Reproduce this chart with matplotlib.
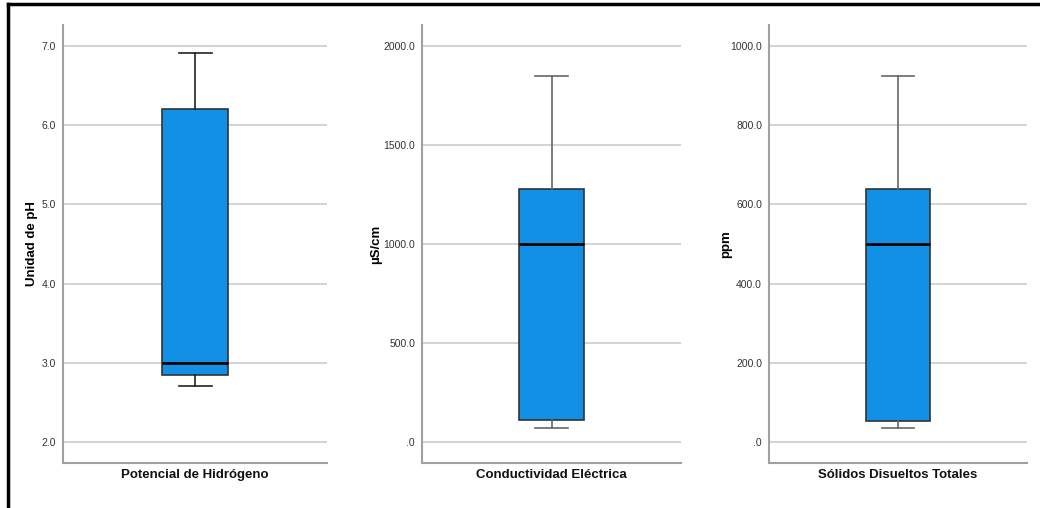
import matplotlib
matplotlib.use("Agg")
import matplotlib.pyplot as plt
from matplotlib.ticker import FuncFormatter
from matplotlib.lines import Line2D

plt.rcParams['font.family'] = ['Liberation Sans', 'DejaVu Sans']

# valores
variables = ["Potencial de Hidrógeno", "Conductividad Eléctrica", "Sólidos Disueltos Totales"]
unidades = ["Unidad de pH", "µS/cm", "ppm"]
minimos = [2.71, 72, 36]
q1 = [2.85, 111, 54]
medianas = [3.0, 1000, 499]
q3 = [6.2, 1276, 638]
maximos = [6.915, 1848, 924]
ticks = [[2, 3, 4, 5, 6, 7], [0, 500, 1000, 1500, 2000], [0, 200, 400, 600, 800, 1000]]
limites = [(1.735, 7.265), (-106, 2106), (-53, 1053)]

fill = "#1190e6"
posiciones = [(63, 264), (422, 259), (769, 258)]
etiqueta_x = [38, 382, 732]

def fmt(v, pos):
    s = "%.1f" % v
    if s.startswith("0."):
        s = s[1:]
    return s

fig = plt.figure(figsize=(10.4, 5.08), dpi=100)

for i in range(3):
    x0, w = posiciones[i]
    ax = fig.add_axes([x0 / 1040, 45 / 508, w / 1040, 438 / 508])
    stats = [dict(med=medianas[i], q1=q1[i], q3=q3[i], whislo=minimos[i], whishi=maximos[i], fliers=[])]
    wc = "#222222" if i == 0 else "#666666"
    ax.bxp(stats, positions=[0.5], widths=0.25, patch_artist=True, showfliers=False,
           boxprops=dict(facecolor=fill, edgecolor="#333333", linewidth=1.2),
           medianprops=dict(color="black", linewidth=2),
           whiskerprops=dict(color=wc, linewidth=1.2),
           capprops=dict(color=wc, linewidth=1.2),
           capwidths=0.125, zorder=3)
    ax.set_xlim(0, 1)
    ax.set_ylim(*limites[i])
    ax.set_yticks(ticks[i])
    ax.yaxis.set_major_formatter(FuncFormatter(fmt))
    ax.set_xticks([0.5])
    ax.set_xticklabels([variables[i]], fontsize=9.5, fontweight="bold", color="#111111")
    ax.tick_params(axis="both", length=0)
    ax.tick_params(axis="y", labelsize=7.5, labelcolor="#333333", pad=5)
    ax.tick_params(axis="x", pad=4)
    ax.set_ylabel(unidades[i], fontsize=9.5, fontweight="bold")
    ax.yaxis.set_label_coords((etiqueta_x[i] - x0) / w, 0.5)
    ax.grid(axis="y", color="#d0d0d0", linewidth=1.3, zorder=0)
    ax.set_axisbelow(True)
    for s in ["top", "right"]:
        ax.spines[s].set_visible(False)
    for s in ["left", "bottom"]:
        ax.spines[s].set_color("#a0a0a0")
        ax.spines[s].set_linewidth(1.5)

# marco negro superior e izquierdo
fig.add_artist(Line2D([7.5 / 1040, 1], [1 - 4 / 508, 1 - 4 / 508], color="black", linewidth=2.5, transform=fig.transFigure))
fig.add_artist(Line2D([7.5 / 1040, 7.5 / 1040], [0, 1 - 4 / 508], color="black", linewidth=2.5, transform=fig.transFigure))

fig.savefig("out.png", dpi=100)
